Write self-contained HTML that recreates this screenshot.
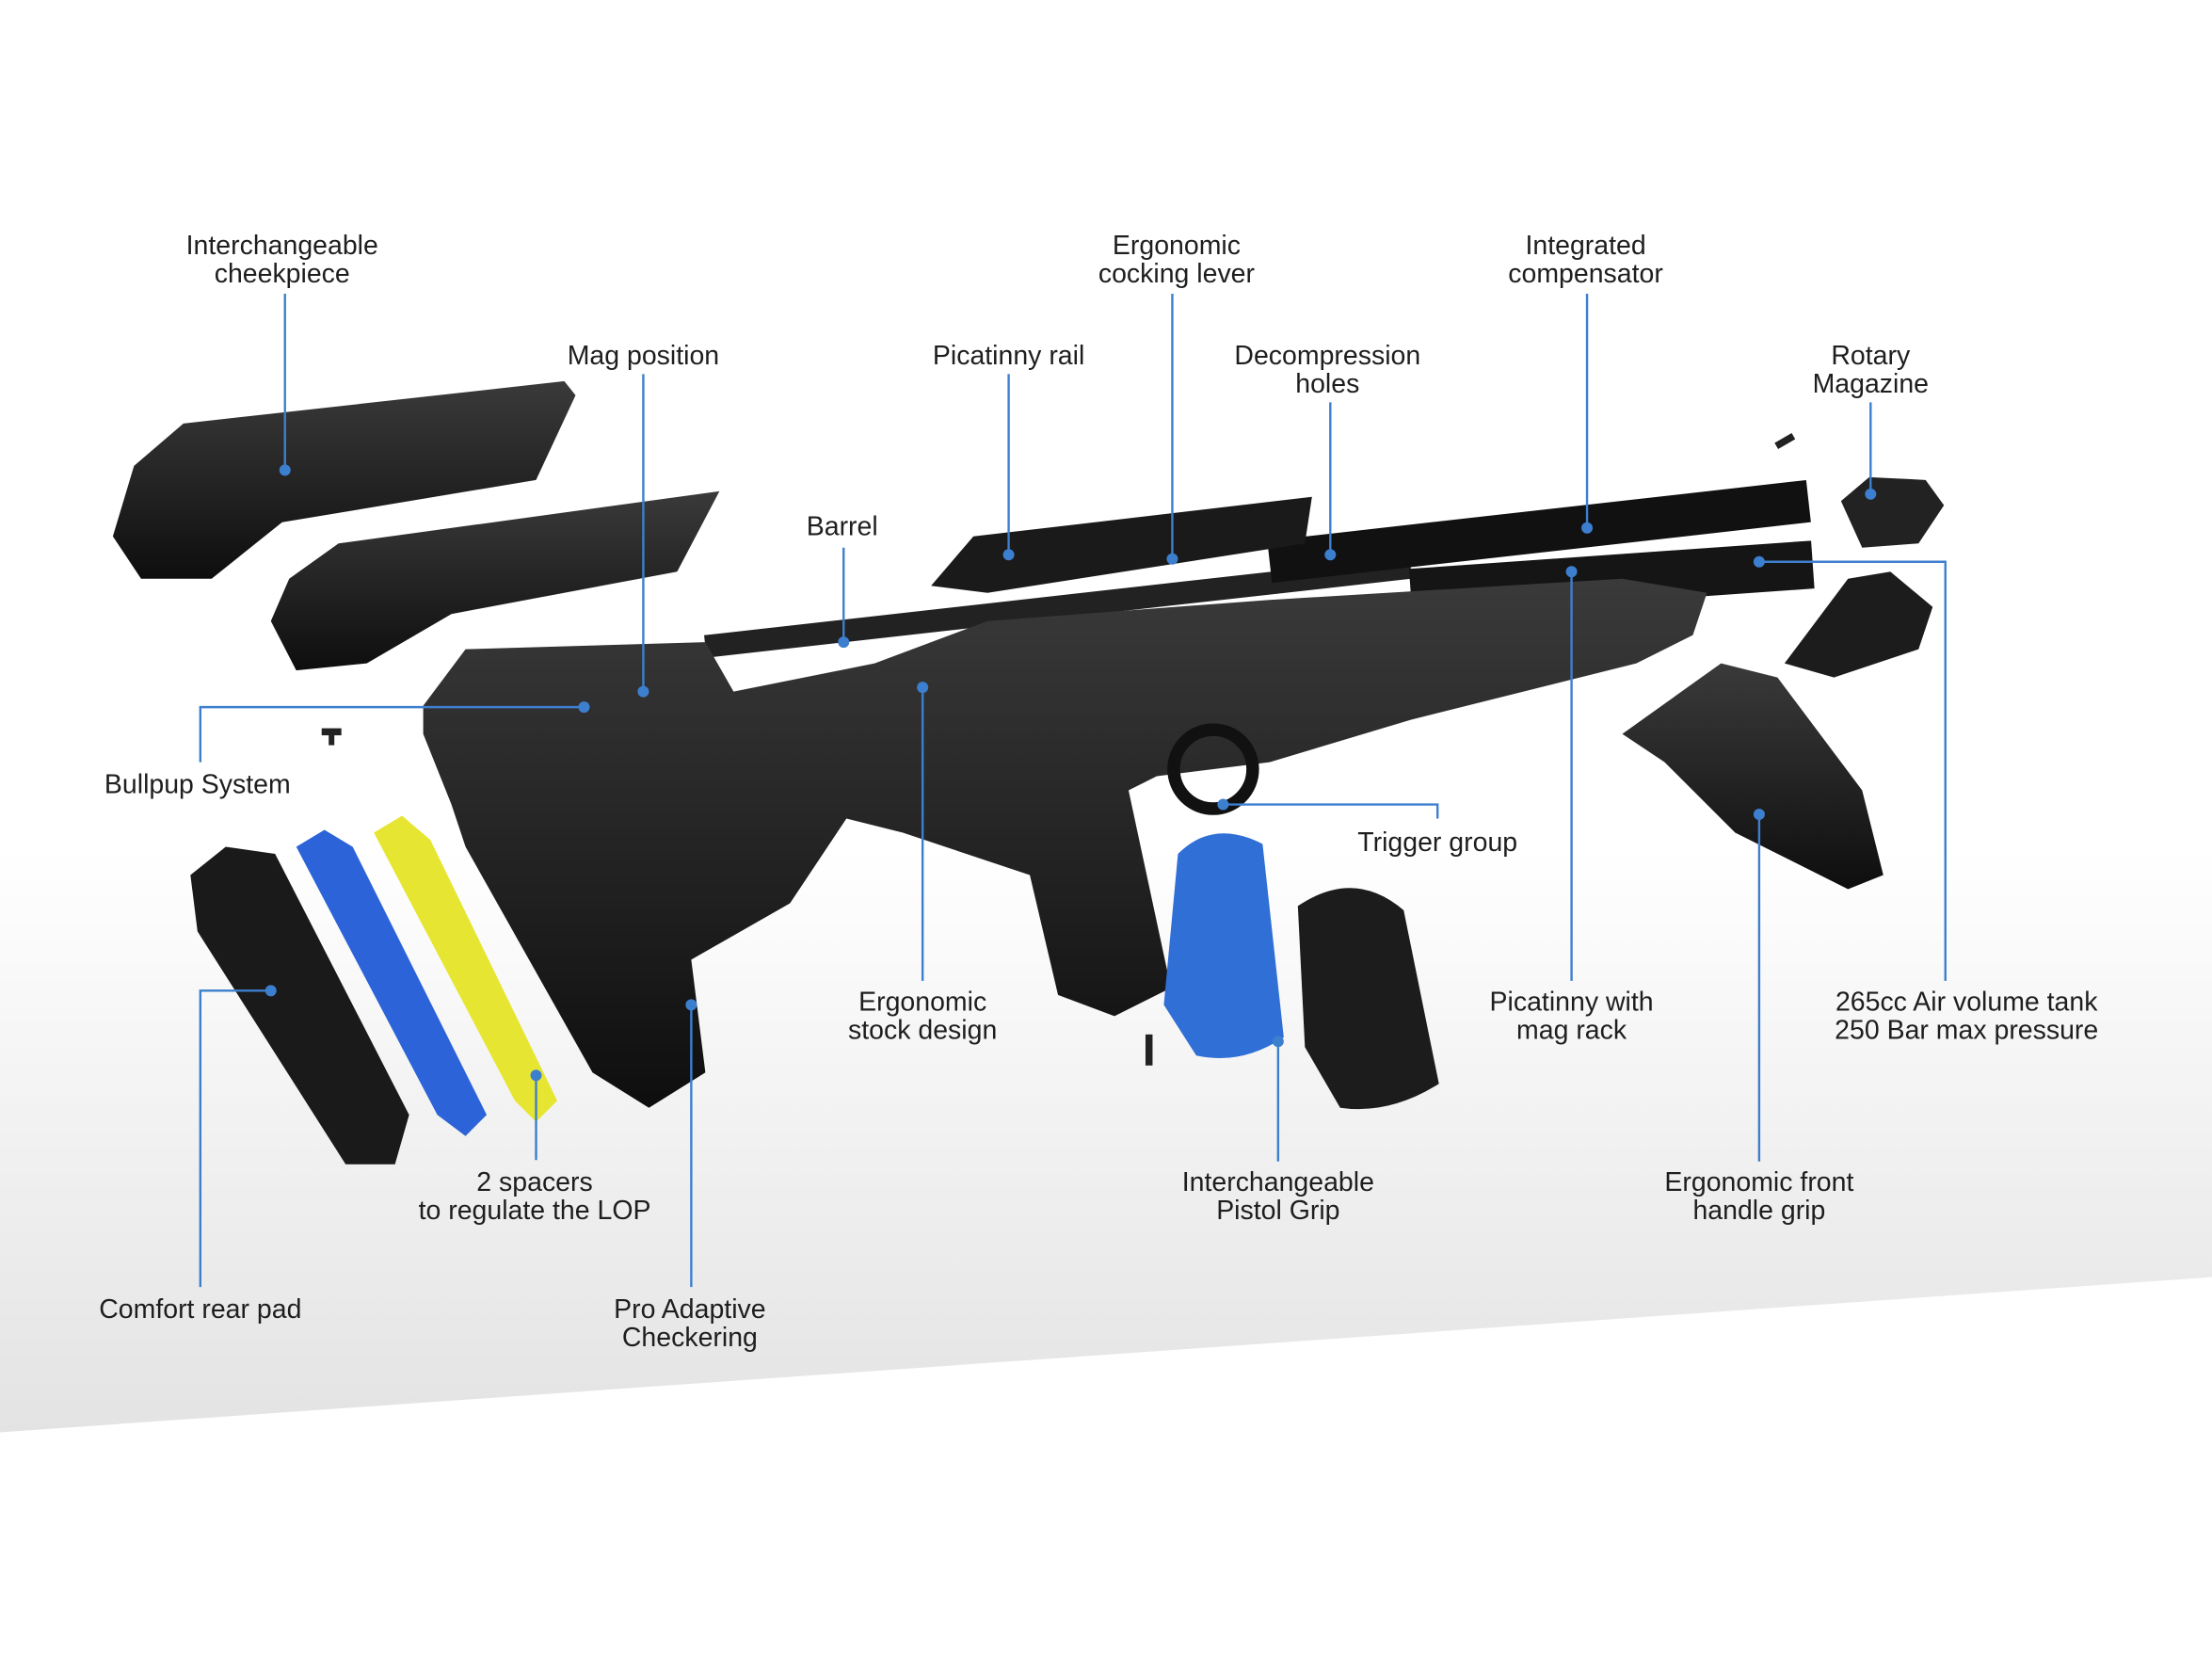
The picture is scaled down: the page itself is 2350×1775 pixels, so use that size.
<!DOCTYPE html>
<html><head><meta charset="utf-8"><style>
html,body{margin:0;padding:0;background:#fff;}
svg{display:block;}
text{font-family:"Liberation Sans",sans-serif;font-size:19px;fill:#1e1e1e;text-anchor:middle;}
.l{stroke:#3d7fcf;stroke-width:1.6;fill:none;}
.d{fill:#3d7fcf;}
</style></head><body>
<svg width="2350" height="1775" viewBox="0 0 1568 1184" xmlns="http://www.w3.org/2000/svg">
<defs>
<linearGradient id="bg" x1="0" y1="0" x2="0" y2="1">
<stop offset="0" stop-color="#ffffff"/><stop offset="1" stop-color="#e3e3e3"/></linearGradient>
<linearGradient id="blk" x1="0" y1="0" x2="0" y2="1">
<stop offset="0" stop-color="#3a3a3a"/><stop offset="1" stop-color="#0e0e0e"/></linearGradient>
</defs>
<rect width="1568" height="1184" fill="#fff"/>
<polygon points="0,600 1568,600 1568,905 0,1015" fill="url(#bg)"/>

<polygon points="95,330 130,300 400,270 408,280 380,340 200,370 150,410 100,410 80,380" fill="url(#blk)"/>
<polygon points="205,410 240,385 510,348 480,405 320,435 260,470 210,475 192,440" fill="url(#blk)"/>
<line x1="500" y1="458" x2="1000" y2="402" stroke="#222" stroke-width="16"/>
<line x1="900" y1="398" x2="1282" y2="355" stroke="#111" stroke-width="30"/>
<line x1="1000" y1="420" x2="1285" y2="400" stroke="#151515" stroke-width="34"/>
<polygon points="660,415 690,380 930,352 925,385 700,420" fill="#1a1a1a"/>
<polygon points="300,500 330,460 500,455 520,490 620,470 700,440 900,425 1150,410 1210,420 1200,450 1160,470 1000,510 900,540 820,550 800,560 830,700 790,720 750,705 730,620 640,590 600,580 560,640 490,680 500,760 460,785 420,760 330,600 320,570 300,520" fill="url(#blk)"/>
<circle cx="860" cy="545" r="28" fill="none" stroke="#111" stroke-width="9"/>
<path d="M835,605 Q860,580 895,598 L910,735 Q880,755 848,748 L825,712 Z" fill="#2f6fd6"/>
<path d="M920,642 Q960,615 995,645 L1020,768 Q985,790 950,785 L925,742 Z" fill="#1c1c1c"/>
<polygon points="1150,520 1220,470 1260,480 1320,560 1335,620 1310,630 1230,590 1180,540" fill="url(#blk)"/>
<polygon points="1265,470 1310,410 1340,405 1370,430 1360,460 1300,480" fill="#1c1c1c"/>
<polygon points="1305,355 1325,338 1365,340 1378,358 1360,385 1320,388" fill="#222"/>
<polygon points="135,620 160,600 195,605 290,790 280,825 245,825 140,660" fill="#1a1a1a"/>
<polygon points="210,600 230,588 250,600 345,790 330,805 310,790" fill="#2d63d8"/>
<polygon points="265,590 285,578 305,595 395,780 380,795 365,780" fill="#e6e632"/>
<g fill="#222"><rect x="228" y="516" width="14" height="5"/><rect x="233" y="519" width="4" height="9"/>
<rect x="1258" y="310" width="14" height="5" transform="rotate(-30 1265 312)"/><rect x="812" y="733" width="5" height="22"/></g>

<g class="l">
<path d="M202,208V333"/><path d="M456,265V490"/><path d="M715,265V393"/>
<path d="M831,208V396"/><path d="M943,285V393"/><path d="M1125,208V374"/>
<path d="M1326,285V350"/><path d="M598,388V455"/><path d="M142,540V501H414"/>
<path d="M1019,580V570H867"/><path d="M654,695V487"/><path d="M1114,695V405"/>
<path d="M1379,695V398H1247"/><path d="M906,823V738"/><path d="M1247,823V577"/>
<path d="M380,822V762"/><path d="M142,912V702H192"/><path d="M490,912V712"/>
</g>
<g class="d">
<circle cx="202" cy="333" r="4"/><circle cx="456" cy="490" r="4"/><circle cx="715" cy="393" r="4"/>
<circle cx="831" cy="396" r="4"/><circle cx="943" cy="393" r="4"/><circle cx="1125" cy="374" r="4"/>
<circle cx="1326" cy="350" r="4"/><circle cx="598" cy="455" r="4"/><circle cx="414" cy="501" r="4"/>
<circle cx="867" cy="570" r="4"/><circle cx="654" cy="487" r="4"/><circle cx="1114" cy="405" r="4"/>
<circle cx="1247" cy="398" r="4"/><circle cx="906" cy="738" r="4"/><circle cx="1247" cy="577" r="4"/>
<circle cx="380" cy="762" r="4"/><circle cx="192" cy="702" r="4"/><circle cx="490" cy="712" r="4"/>
</g>

<text x="200" y="180">Interchangeable</text><text x="200" y="200">cheekpiece</text>
<text x="456" y="258">Mag position</text>
<text x="715" y="258">Picatinny rail</text>
<text x="834" y="180">Ergonomic</text><text x="834" y="200">cocking lever</text>
<text x="941" y="258">Decompression</text><text x="941" y="278">holes</text>
<text x="1124" y="180">Integrated</text><text x="1124" y="200">compensator</text>
<text x="1326" y="258">Rotary</text><text x="1326" y="278">Magazine</text>
<text x="597" y="379">Barrel</text>
<text x="140" y="562">Bullpup System</text>
<text x="1019" y="603">Trigger group</text>
<text x="654" y="716">Ergonomic</text><text x="654" y="736">stock design</text>
<text x="1114" y="716">Picatinny with</text><text x="1114" y="736">mag rack</text>
<text x="1394" y="716">265cc Air volume tank</text><text x="1394" y="736">250 Bar max pressure</text>
<text x="906" y="844">Interchangeable</text><text x="906" y="864">Pistol Grip</text>
<text x="1247" y="844">Ergonomic front</text><text x="1247" y="864">handle grip</text>
<text x="379" y="844">2 spacers</text><text x="379" y="864">to regulate the LOP</text>
<text x="142" y="934">Comfort rear pad</text>
<text x="489" y="934">Pro Adaptive</text><text x="489" y="954">Checkering</text>
</svg>
</body></html>
